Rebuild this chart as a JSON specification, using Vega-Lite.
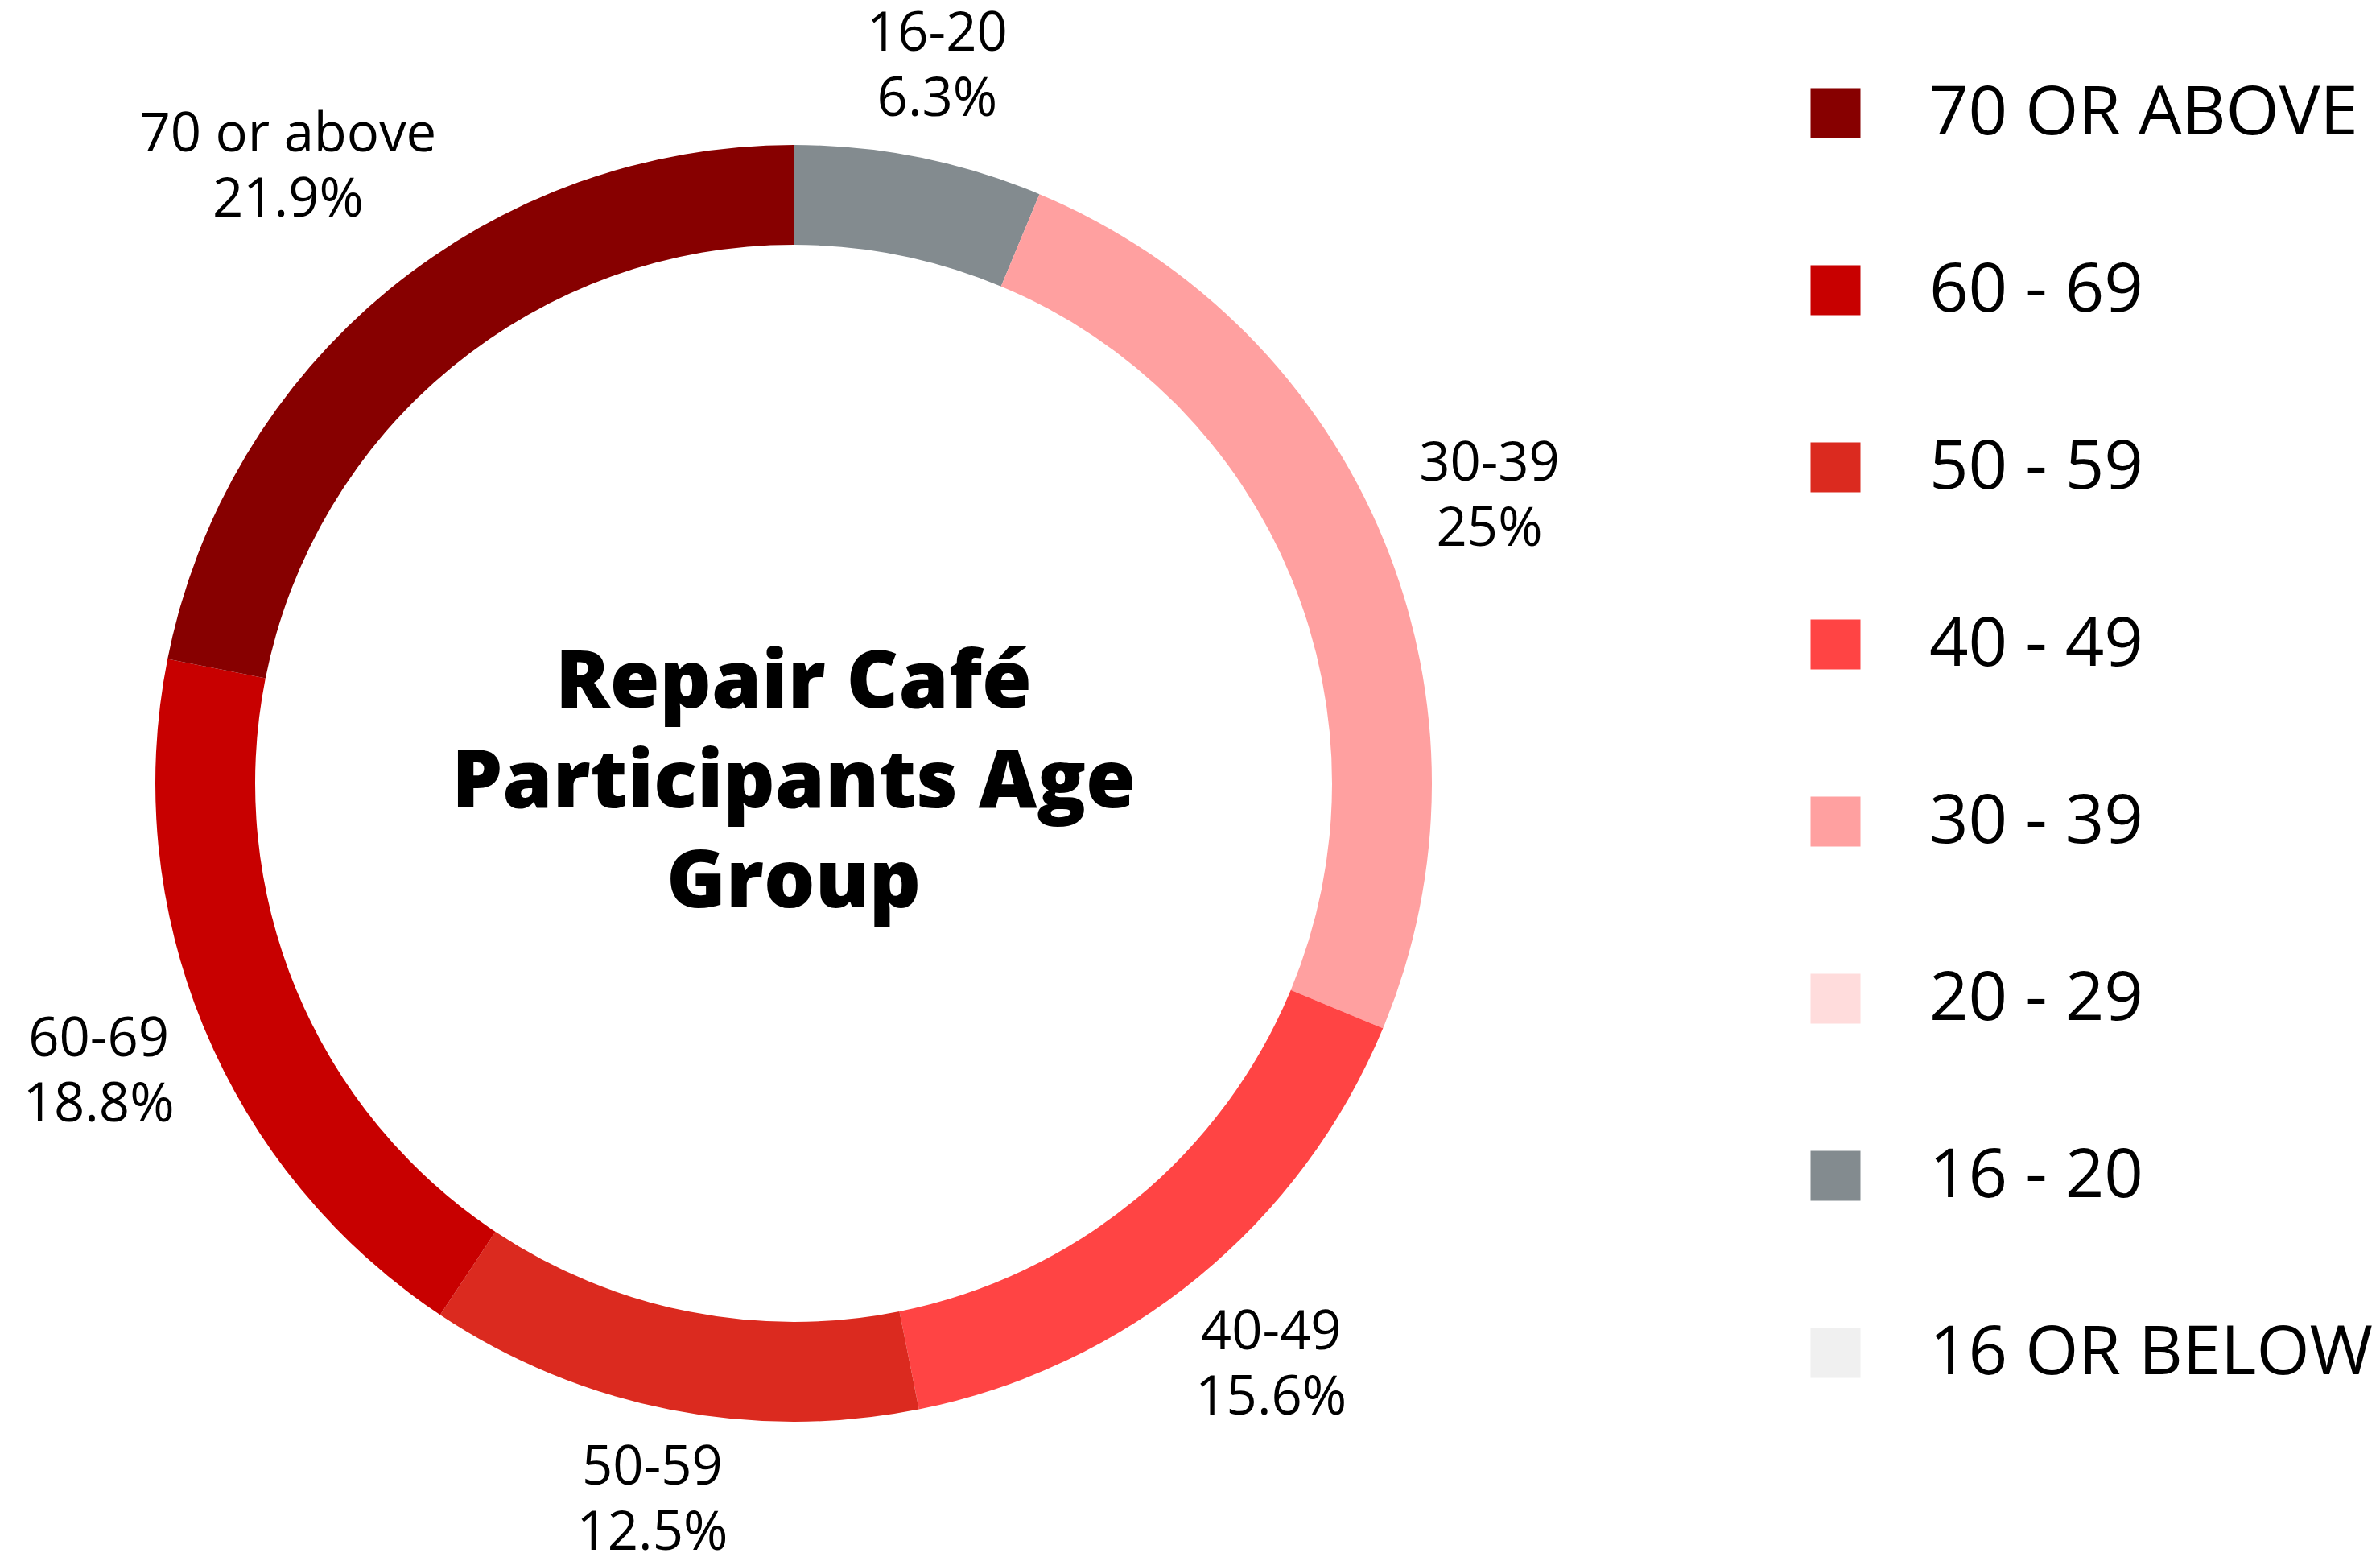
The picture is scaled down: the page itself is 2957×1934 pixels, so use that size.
{
  "$schema": "https://vega.github.io/schema/vega-lite/v6.json",
  "autosize": {"type": "none"},
  "padding": {"left": 0, "top": 0, "right": 985, "bottom": 0},
  "width": 1972,
  "height": 1946,
  "background": "white",
  "config": {"view": {"stroke": null}},
  "data": {
    "values": [
      {"group": "16 - 20", "label": "16-20\n6.3%", "pct": 6.3, "ord": 1},
      {"group": "30 - 39", "label": "30-39\n25%", "pct": 25, "ord": 2},
      {"group": "40 - 49", "label": "40-49\n15.6%", "pct": 15.6, "ord": 3},
      {"group": "50 - 59", "label": "50-59\n12.5%", "pct": 12.5, "ord": 4},
      {"group": "60 - 69", "label": "60-69\n18.8%", "pct": 18.8, "ord": 5},
      {"group": "70 OR ABOVE", "label": "70 or above\n21.9%", "pct": 21.9, "ord": 6}
    ]
  },
  "layer": [
    {
      "mark": {"type": "arc", "innerRadius": 669, "outerRadius": 793, "strokeWidth": 0},
      "encoding": {
        "theta": {"field": "pct", "type": "quantitative", "stack": true},
        "order": {"field": "ord", "type": "quantitative"},
        "color": {
          "field": "group",
          "type": "nominal",
          "scale": {
            "domain": ["70 OR ABOVE", "60 - 69", "50 - 59", "40 - 49", "30 - 39", "20 - 29", "16 - 20", "16 OR BELOW"],
            "range": ["#870000", "#C80000", "#DB2A1F", "#FF4444", "#FFA0A0", "#FFDCDC", "#838B8F", "#F0F0F0"]
          },
          "legend": {
            "orient": "none",
            "legendX": 2238,
            "legendY": 98,
            "title": null,
            "padding": 0,
            "symbolType": "square",
            "symbolSize": 3844,
            "symbolStrokeWidth": 0,
            "labelFont": "Open Sans",
            "labelFontSize": 85,
            "labelColor": "#000000",
            "labelOffset": 74,
            "labelLimit": 1000,
            "rowPadding": 134
          }
        }
      }
    },
    {
      "mark": {"type": "text", "radius": 908, "dy": -40, "font": "Open Sans", "fontSize": 67, "lineBreak": "\n", "lineHeight": 81, "align": "center", "baseline": "middle", "color": "#000000"},
      "encoding": {
        "theta": {"field": "pct", "type": "quantitative", "stack": true},
        "order": {"field": "ord", "type": "quantitative"},
        "text": {"condition": {"test": "datum.ord == 1 || datum.ord == 4", "field": "label"}, "value": ""}
      }
    },
    {
      "mark": {"type": "text", "radius": 935, "dy": -40, "font": "Open Sans", "fontSize": 67, "lineBreak": "\n", "lineHeight": 81, "align": "center", "baseline": "middle", "color": "#000000"},
      "encoding": {
        "theta": {"field": "pct", "type": "quantitative", "stack": true},
        "order": {"field": "ord", "type": "quantitative"},
        "text": {"condition": {"test": "datum.ord == 2 || datum.ord == 3 || datum.ord == 5", "field": "label"}, "value": ""}
      }
    },
    {
      "mark": {"type": "text", "radius": 990, "dy": -40, "font": "Open Sans", "fontSize": 67, "lineBreak": "\n", "lineHeight": 81, "align": "center", "baseline": "middle", "color": "#000000"},
      "encoding": {
        "theta": {"field": "pct", "type": "quantitative", "stack": true},
        "order": {"field": "ord", "type": "quantitative"},
        "text": {"condition": {"test": "datum.ord == 6", "field": "label"}, "value": ""}
      }
    },
    {
      "data": {"values": [{"t": "title"}]},
      "mark": {"type": "text", "text": ["Repair Café", "Participants Age", "Group"], "dy": -124, "font": "Open Sans", "fontSize": 100, "fontWeight": 800, "lineHeight": 124, "align": "center", "baseline": "middle", "color": "#000000"},
      "encoding": {}
    }
  ]
}
